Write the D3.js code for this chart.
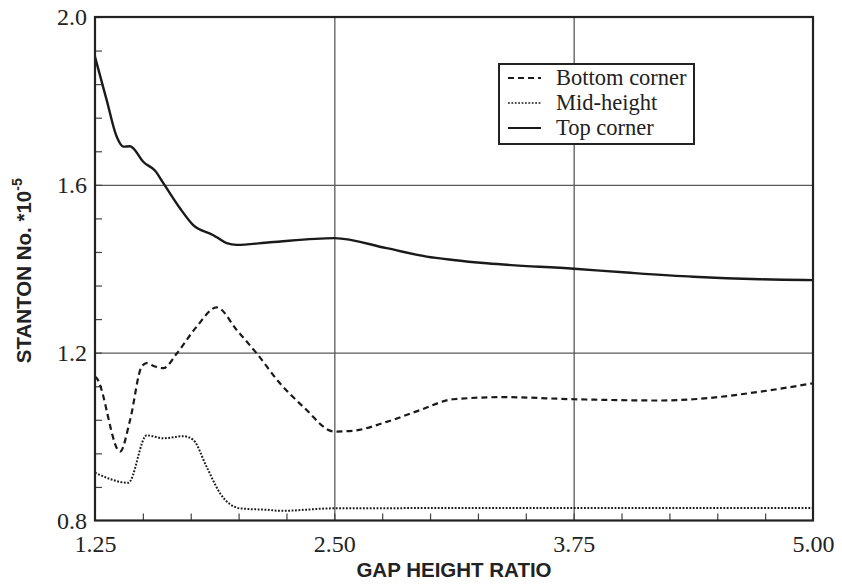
<!DOCTYPE html>
<html><head><meta charset="utf-8">
<script src="https://cdn.jsdelivr.net/npm/d3@7"></script>
<style>
html,body{margin:0;padding:0;background:#fff;}
svg{display:block;}
</style></head>
<body>
<svg id="chart" width="842" height="585"></svg>
<script>
// ---- data ----
const xTickValues = [1.25, 2.50, 3.75, 5.00];
const xTickLabels = ["1.25", "2.50", "3.75", "5.00"];
const yTickValues = [0.8, 1.2, 1.6, 2.0];
const yTickLabels = ["0.8", "1.2", "1.6", "2.0"];
const seriesNames = ["Bottom corner", "Mid-height", "Top corner"];

const topCornerX = [1.25, 1.311, 1.363, 1.398, 1.433, 1.450, 1.502, 1.563, 1.607, 1.694, 1.763, 1.868, 1.886, 1.938, 1.990, 2.164, 2.50, 2.773, 2.982, 3.121, 3.296, 3.752, 4.027, 4.375, 4.723, 5.00];
const topCornerY = [1.905, 1.802, 1.715, 1.691, 1.692, 1.687, 1.655, 1.634, 1.604, 1.544, 1.504, 1.480, 1.475, 1.461, 1.457, 1.463, 1.473, 1.449, 1.429, 1.421, 1.413, 1.400, 1.391, 1.381, 1.375, 1.373];

const bottomCornerX = [1.25, 1.259, 1.381, 1.433, 1.494, 1.520, 1.563, 1.607, 1.677, 1.781, 1.886, 1.990, 2.095, 2.216, 2.338, 2.50, 2.599, 2.773, 2.947, 3.121, 3.383, 3.752, 4.199, 4.375, 4.723, 5.00];
const bottomCornerY = [1.143, 1.139, 0.964, 1.039, 1.167, 1.175, 1.167, 1.163, 1.198, 1.262, 1.308, 1.254, 1.198, 1.127, 1.071, 1.012, 1.014, 1.035, 1.063, 1.089, 1.094, 1.089, 1.086, 1.089, 1.107, 1.127];

const midHeightX = [1.25, 1.424, 1.520, 1.607, 1.711, 1.763, 1.833, 1.903, 2.007, 2.164, 2.216, 2.50, 3.75, 5.00];
const midHeightY = [0.914, 0.890, 1.003, 0.996, 1.001, 0.992, 0.928, 0.865, 0.829, 0.825, 0.823, 0.829, 0.830, 0.830];

// ---- layout ----
const svg = d3.select("#chart");
const L = 95, R = 813, T = 17, B = 520.5;
const x = d3.scaleLinear().domain([1.25, 5.00]).range([L, R]);
const y = d3.scaleLinear().domain([0.8, 2.0]).range([B, T]);

// gridlines
const gx = svg.append("g").attr("transform", `translate(0,${B})`)
  .call(d3.axisBottom(x).tickValues(xTickValues.slice(1, -1)).tickSize(-(B - T)).tickFormat(""));
const gy = svg.append("g").attr("transform", `translate(${L},0)`)
  .call(d3.axisLeft(y).tickValues(yTickValues.slice(1, -1)).tickSize(-(R - L)).tickFormat(""));
[gx, gy].forEach(g => {
  g.select(".domain").remove();
  g.selectAll("line").attr("stroke", "#5a5a5a").attr("stroke-width", 1.3);
});

// minor ticks (inside)
const minorX = d3.range(1.50, 5.0, 0.25);
const minorY = d3.range(0.88, 2.0, 0.08);
const mx = svg.append("g").attr("transform", `translate(0,${B})`)
  .call(d3.axisBottom(x).tickValues(minorX).tickSize(-7).tickFormat(""));
const my = svg.append("g").attr("transform", `translate(${L},0)`)
  .call(d3.axisLeft(y).tickValues(minorY).tickSize(-7).tickFormat(""));
[mx, my].forEach(g => {
  g.select(".domain").remove();
  g.selectAll("line").attr("stroke", "#444").attr("stroke-width", 1.2);
});

// tick labels
const serif = "'Liberation Serif', 'Times New Roman', serif";
const lx = svg.append("g").attr("transform", `translate(0,${B})`)
  .call(d3.axisBottom(x).tickValues(xTickValues).tickSize(0).tickPadding(0)
    .tickFormat((d, i) => xTickLabels[i]));
lx.select(".domain").remove();
lx.selectAll("text").attr("font-family", serif)
  .attr("font-size", 24).attr("fill", "#222").attr("dy", null).attr("y", 31);

const ly = svg.append("g").attr("transform", `translate(${L},0)`)
  .call(d3.axisLeft(y).tickValues(yTickValues).tickSize(0).tickPadding(0)
    .tickFormat((d, i) => yTickLabels[i]));
ly.select(".domain").remove();
ly.selectAll("text").attr("font-family", serif)
  .attr("font-size", 24).attr("fill", "#222").attr("x", -8).attr("dy", "0.33em");

// lines
const line = d3.line().x(d => x(d[0])).y(d => y(d[1])).curve(d3.curveMonotoneX);
const zip = (a, b) => a.map((v, i) => [v, b[i]]);
const styles = [
  {data: zip(bottomCornerX, bottomCornerY), dash: "6,4", w: 2.2},
  {data: zip(midHeightX, midHeightY), dash: "1.8,1.6", w: 2.0},
  {data: zip(topCornerX, topCornerY), dash: null, w: 2.4}
];
styles.forEach(s => {
  svg.append("path").attr("d", line(s.data)).attr("fill", "none")
    .attr("stroke", "#1a1a1a").attr("stroke-width", s.w)
    .attr("stroke-dasharray", s.dash);
});

// frame
svg.append("rect").attr("x", L).attr("y", T).attr("width", R - L).attr("height", B - T)
  .attr("fill", "none").attr("stroke", "#222").attr("stroke-width", 2.2);

// legend
const lg = svg.append("g");
lg.append("rect").attr("x", 499).attr("y", 64).attr("width", 195).attr("height", 80)
  .attr("fill", "#fff").attr("stroke", "#222").attr("stroke-width", 2);
const legendBase = [85, 110, 135];
seriesNames.forEach((name, i) => {
  const cy = legendBase[i] - 7;
  lg.append("line").attr("x1", 508).attr("x2", 541).attr("y1", cy).attr("y2", cy)
    .attr("stroke", "#1a1a1a").attr("stroke-width", styles[i].w - 0.4)
    .attr("stroke-dasharray", styles[i].dash);
  lg.append("text").attr("x", 556).attr("y", legendBase[i])
    .attr("font-family", serif)
    .attr("font-size", 22.5).attr("fill", "#222").text(name);
});

// axis titles
svg.append("text").attr("x", (L + R) / 2).attr("y", 577).attr("text-anchor", "middle")
  .attr("font-family", "'Liberation Sans', Arial, sans-serif").attr("font-weight", "bold")
  .attr("font-size", 20.5).attr("fill", "#222").text("GAP HEIGHT RATIO");

const yt = svg.append("text").attr("transform", `translate(31,${(T + B) / 2 + 2}) rotate(-90)`)
  .attr("text-anchor", "middle")
  .attr("font-family", "'Liberation Sans', Arial, sans-serif").attr("font-weight", "bold")
  .attr("font-size", 20.5).attr("fill", "#222");
yt.append("tspan").text("STANTON No. *10");
yt.append("tspan").attr("font-size", 14).attr("dy", -9).text("-5");
</script>
</body></html>
